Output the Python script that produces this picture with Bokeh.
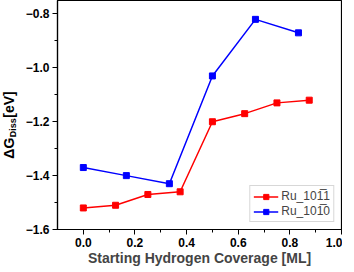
import math
from bokeh.plotting import figure
from bokeh.layouts import row
from bokeh.models import Range1d, FixedTicker, CustomJSTickFormatter, Legend, LegendItem
from bokeh.core.properties import value
from bokeh.embed import file_html
from bokeh.resources import INLINE

x_1011 = [0.0, 0.125, 0.25, 0.375, 0.5, 0.625, 0.75, 0.875]
y_1011 = [-1.52, -1.51, -1.47, -1.46, -1.20, -1.17, -1.13, -1.12]
x_1010 = [0.0, 0.1667, 0.3333, 0.5, 0.6667, 0.8333]
y_1010 = [-1.37, -1.40, -1.43, -1.03, -0.82, -0.87]
x_ticks = [0.0, 0.2, 0.4, 0.6, 0.8, 1.0]
y_ticks = [-1.6, -1.4, -1.2, -1.0, -0.8]
label_1011 = "Ru_101\u03051"
label_1010 = "Ru_101\u03050"

FONT = "Liberation Sans"
H = 268

yr = Range1d(-1.6, -0.75)
p = figure(width=320, height=H, output_backend="svg", toolbar_location=None,
           x_range=Range1d(-0.1, 1.0), y_range=yr,
           min_border_left=32, min_border_right=1, min_border_top=0, min_border_bottom=30)
p.grid.visible = False
p.outline_line_color = "black"
p.outline_line_width = 1.2
p.background_fill_color = "white"
p.border_fill_color = "white"

fmt = CustomJSTickFormatter(code="return tick.toFixed(1).replace('-', '\u2212');")
for ax, ticks in ((p.xaxis[0], x_ticks), (p.yaxis[0], y_ticks)):
    ax.ticker = FixedTicker(ticks=ticks, minor_ticks=[t + 0.1 for t in ticks])
    ax.formatter = fmt
    ax.major_label_text_font = FONT
    ax.major_label_text_font_style = "bold"
    ax.major_label_text_font_size = "12px"
    ax.major_label_text_color = "black"
    ax.axis_line_color = "black"
    ax.axis_line_width = 1.2
    ax.major_tick_line_color = "black"
    ax.minor_tick_line_color = "black"
    ax.major_tick_out = 5
    ax.major_tick_in = 0
    ax.minor_tick_out = 3
    ax.minor_tick_in = 0
    ax.major_label_standoff = 3

p.xaxis.axis_label = "Starting Hydrogen Coverage [ML]"
p.xaxis.axis_label_text_font = FONT
p.xaxis.axis_label_text_font_style = "bold"
p.xaxis.axis_label_text_font_size = "14px"
p.xaxis.axis_label_standoff = 0

r1l = p.line(x_1011, y_1011, line_color="#ff0000", line_width=1.5)
r1m = p.scatter(x_1011, y_1011, marker="square", size=6, fill_color="#ff0000", line_color="#ff0000")
r2l = p.line(x_1010, y_1010, line_color="#0000ff", line_width=1.5)
r2m = p.scatter(x_1010, y_1010, marker="square", size=6, fill_color="#0000ff", line_color="#0000ff")

legend = Legend(items=[LegendItem(label=label_1011, renderers=[r1l, r1m]),
                       LegendItem(label=label_1010, renderers=[r2l, r2m])],
                location="bottom_right")
legend.label_text_font = FONT
legend.label_text_font_size = "12px"
legend.label_height = 13
legend.glyph_height = 13
legend.glyph_width = 25
legend.spacing = 1
legend.padding = 3
legend.margin = 7
legend.border_line_color = "#b0b0b0"
legend.label_standoff = 3
p.add_layout(legend)

# Left strip holding the rotated y-axis title (with subscript); shares the y range
lab = figure(width=22, height=H, output_backend="svg", toolbar_location=None,
             x_range=Range1d(0, 22), y_range=yr,
             min_border_left=0, min_border_right=0, min_border_top=0, min_border_bottom=30)
lab.axis.visible = False
lab.grid.visible = False
lab.outline_line_color = None
lab.background_fill_color = "white"
lab.border_fill_color = "white"
ttl_x = [8, 12, 8]
ttl_y = [-1.337, -1.258, -1.185]
ttl_t = ["\u0394G", "Diss", "[eV]"]
ttl_s = ["14px", "9px", "14px"]
for xx, yy, tt, ss in zip(ttl_x, ttl_y, ttl_t, ttl_s):
    lab.text(x=[xx], y=[yy], text=[tt], angle=math.pi / 2,
             text_font=value(FONT), text_font_style="bold", text_font_size=ss,
             text_color="black", text_align="left", text_baseline="middle")

layout = row(lab, p)
open("out.html", "w").write(file_html(layout, INLINE))
